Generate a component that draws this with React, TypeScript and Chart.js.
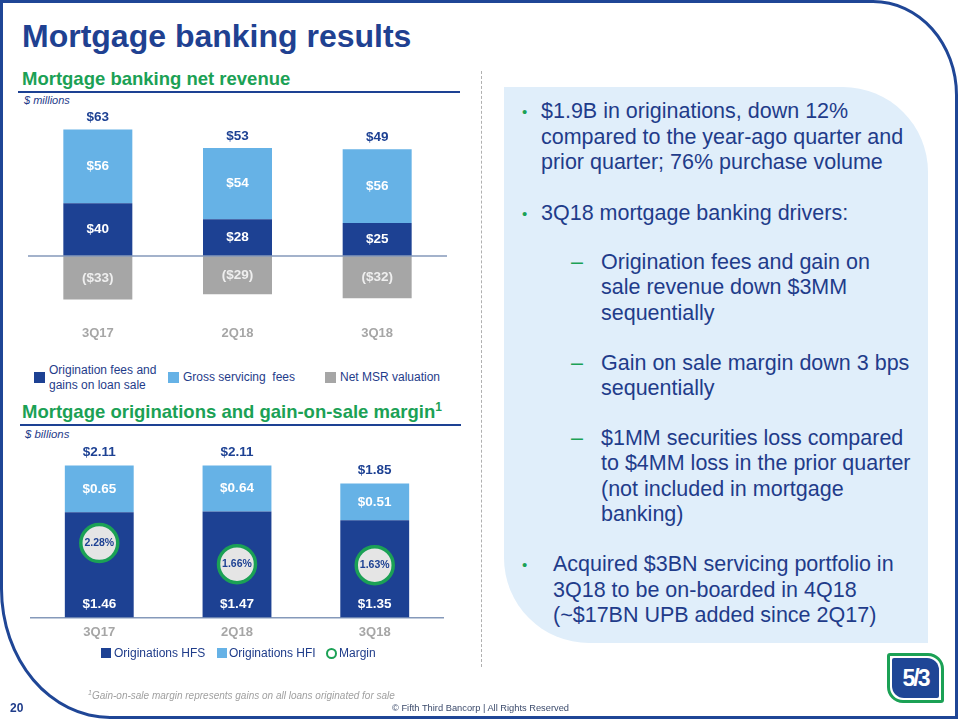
import React, { useEffect, useRef } from "react";
import { Chart, registerables } from "chart.js";

Chart.register(...registerables);

const FONT = "Arial, 'Liberation Sans', Helvetica, sans-serif";
const NAVY = "#1d4193";
const TEXT_NAVY = "#1f3c8a";
const LIGHT = "#66b2e6";
const GRAY = "#a6a6a6";
const GREEN = "#1ba155";

// ---- Mortgage banking net revenue ($ millions)
const revenueQuarters = ["3Q17", "2Q18", "3Q18"];
const originationFees = [40, 28, 25];
const grossServicing = [56, 54, 56];
const netMsrValuation = [-33, -29, -32];
const revenueTotals = [63, 53, 49];

// ---- Mortgage originations ($ billions) and gain-on-sale margin (%)
const origQuarters = ["3Q17", "2Q18", "3Q18"];
const originationsHFS = [1.46, 1.47, 1.35];
const originationsHFI = [0.65, 0.64, 0.51];
const originationTotals = [2.11, 2.11, 1.85];
const gainOnSaleMargin = [2.28, 1.66, 1.63];

const revenueLabelsPlugin = {
  id: "revenueLabels",
  afterDatasetsDraw(chart: any) {
    const ctx = chart.ctx;
    const area = chart.chartArea;
    ctx.save();
    const y0 = chart.scales.y.getPixelForValue(0);
    ctx.strokeStyle = "#8599ba";
    ctx.lineWidth = 1.5;
    ctx.beginPath();
    ctx.moveTo(area.left, y0);
    ctx.lineTo(area.right, y0);
    ctx.stroke();
    ctx.textAlign = "center";
    ctx.textBaseline = "middle";
    ctx.font = `bold 13.5px ${FONT}`;
    chart.data.datasets.forEach((ds: any, di: number) => {
      const meta = chart.getDatasetMeta(di);
      meta.data.forEach((el: any, i: number) => {
        const v = ds.data[i];
        const p = el.getProps(["x", "y", "base"], true);
        ctx.fillStyle = v < 0 ? "#efefef" : "#ffffff";
        ctx.fillText(v < 0 ? `($${-v})` : `$${v}`, p.x, (p.y + p.base) / 2);
      });
    });
    const topMeta = chart.getDatasetMeta(1);
    topMeta.data.forEach((el: any, i: number) => {
      const p = el.getProps(["x", "y"], true);
      ctx.fillStyle = NAVY;
      ctx.fillText(`$${revenueTotals[i]}`, p.x, p.y - 12);
    });
    ctx.restore();
  },
};

const origLabelsPlugin = {
  id: "origLabels",
  afterDatasetsDraw(chart: any) {
    const ctx = chart.ctx;
    ctx.save();
    ctx.textAlign = "center";
    ctx.textBaseline = "middle";
    ctx.font = `bold 13.5px ${FONT}`;
    const hfs = chart.getDatasetMeta(0);
    hfs.data.forEach((el: any, i: number) => {
      const p = el.getProps(["x", "y", "base"], true);
      ctx.fillStyle = "#ffffff";
      ctx.fillText(`$${originationsHFS[i].toFixed(2)}`, p.x, p.base - 13);
    });
    const hfi = chart.getDatasetMeta(1);
    hfi.data.forEach((el: any, i: number) => {
      const p = el.getProps(["x", "y", "base"], true);
      ctx.fillStyle = "#ffffff";
      ctx.fillText(`$${originationsHFI[i].toFixed(2)}`, p.x, (p.y + p.base) / 2);
      ctx.fillStyle = NAVY;
      ctx.fillText(`$${originationTotals[i].toFixed(2)}`, p.x, p.y - 13);
    });
    const mg = chart.getDatasetMeta(2);
    ctx.font = `bold 10.5px ${FONT}`;
    mg.data.forEach((el: any, i: number) => {
      const p = el.getProps(["x", "y"], true);
      ctx.fillStyle = NAVY;
      ctx.fillText(`${gainOnSaleMargin[i].toFixed(2)}%`, p.x, p.y);
    });
    ctx.restore();
  },
};

const abs = (s: React.CSSProperties): React.CSSProperties => ({ position: "absolute", ...s });

export default function App() {
  const topRef = useRef<HTMLCanvasElement>(null);
  const botRef = useRef<HTMLCanvasElement>(null);

  useEffect(() => {
    const tickFont = { family: FONT, size: 13, weight: "bold" as const };
    const c1 = new Chart(topRef.current as HTMLCanvasElement, {
      type: "bar",
      data: {
        labels: revenueQuarters,
        datasets: [
          { label: "Origination fees and gains on loan sale", data: originationFees, backgroundColor: NAVY, stack: "s" },
          { label: "Gross servicing fees", data: grossServicing, backgroundColor: LIGHT, stack: "s" },
          { label: "Net MSR valuation", data: netMsrValuation, backgroundColor: GRAY, stack: "s" },
        ],
      },
      options: {
        responsive: false,
        animation: false,
        layout: { autoPadding: false, padding: { top: 11, bottom: 1, left: 13, right: 18 } },
        plugins: { legend: { display: false }, tooltip: { enabled: false } },
        datasets: { bar: { categoryPercentage: 1, barPercentage: 0.494 } },
        scales: {
          x: {
            stacked: true,
            grid: { display: false, drawTicks: false },
            border: { display: false },
            ticks: { color: GRAY, font: tickFont, padding: 10 },
          },
          y: { stacked: true, display: false, min: -45, max: 110 },
        },
      },
      plugins: [revenueLabelsPlugin],
    } as any);

    const c2 = new Chart(botRef.current as HTMLCanvasElement, {
      type: "bar",
      data: {
        labels: origQuarters,
        datasets: [
          { label: "Originations HFS", data: originationsHFS, backgroundColor: NAVY, stack: "s", yAxisID: "y", order: 2 },
          { label: "Originations HFI", data: originationsHFI, backgroundColor: LIGHT, stack: "s", yAxisID: "y", order: 2 },
          {
            type: "line",
            label: "Margin",
            data: gainOnSaleMargin,
            yAxisID: "y2",
            showLine: false,
            pointRadius: 18.5,
            pointBackgroundColor: "#e5e5e5",
            pointBorderColor: GREEN,
            pointBorderWidth: 3.5,
            clip: false,
            order: 1,
          },
        ],
      },
      options: {
        responsive: false,
        animation: false,
        layout: { autoPadding: false, padding: { top: 8, bottom: 0, left: 15.4, right: 21.4 } },
        plugins: { legend: { display: false }, tooltip: { enabled: false } },
        datasets: { bar: { categoryPercentage: 1, barPercentage: 0.5 } },
        scales: {
          x: {
            stacked: true,
            grid: { display: false, drawTicks: false },
            border: { display: true, color: "#8599ba", width: 1.5 },
            ticks: { color: GRAY, font: tickFont, padding: 7 },
          },
          y: { stacked: true, display: false, min: 0, max: 2.7 },
          y2: { stacked: false, display: false, min: 0.1, max: 5.8 },
        },
      },
      plugins: [origLabelsPlugin],
    } as any);

    return () => {
      c1.destroy();
      c2.destroy();
    };
  }, []);

  const panelText: React.CSSProperties = {
    position: "absolute",
    fontFamily: FONT,
    fontSize: 21.5,
    lineHeight: "25.5px",
    color: TEXT_NAVY,
    whiteSpace: "nowrap",
  };
  const bullet = (top: number): React.CSSProperties => ({
    position: "absolute",
    left: 522,
    top,
    fontFamily: FONT,
    fontSize: 15,
    lineHeight: "25.5px",
    color: GREEN,
  });
  const dash = (top: number): React.CSSProperties => ({
    position: "absolute",
    left: 571,
    top,
    fontFamily: FONT,
    fontSize: 21.5,
    lineHeight: "25.5px",
    color: GREEN,
  });
  const legendText: React.CSSProperties = {
    position: "absolute",
    fontFamily: FONT,
    fontSize: 12,
    lineHeight: "15px",
    color: TEXT_NAVY,
    whiteSpace: "nowrap",
  };

  return (
    <div style={{ position: "relative", width: 960, height: 720, background: "#ffffff", overflow: "hidden", fontFamily: FONT }}>
      <style>{`body{margin:0;}`}</style>
      {/* frame */}
      <div
        style={abs({
          left: 0,
          top: 0,
          width: 958,
          height: 719,
          boxSizing: "border-box",
          border: "3.5px solid #1f4696",
          borderTopRightRadius: "85px 95px",
          borderBottomLeftRadius: "110px 130px",
        })}
      />
      {/* title */}
      <div style={abs({ left: 22, top: 20, fontSize: 32, lineHeight: "32px", fontWeight: "bold", color: "#1f4191", whiteSpace: "nowrap" })}>
        Mortgage banking results
      </div>

      {/* section 1 */}
      <div style={abs({ left: 22, top: 70.3, fontSize: 18.5, lineHeight: "18.5px", fontWeight: "bold", color: GREEN, whiteSpace: "nowrap" })}>
        Mortgage banking net revenue
      </div>
      <div style={abs({ left: 18, top: 91, width: 442, height: 2, background: NAVY })} />
      <div style={abs({ left: 24, top: 94.7, fontSize: 11, lineHeight: "11px", fontStyle: "italic", color: TEXT_NAVY })}>$ millions</div>
      <canvas ref={topRef} width={450} height={252} style={abs({ left: 15, top: 100, width: 450, height: 252 })} />

      {/* legend 1 */}
      <div style={abs({ left: 34, top: 372, width: 11, height: 11, background: NAVY })} />
      <div style={{ ...legendText, left: 49, top: 362.5 }}>
        Origination fees and
        <br />
        gains on loan sale
      </div>
      <div style={abs({ left: 168, top: 372, width: 11, height: 11, background: LIGHT })} />
      <div style={{ ...legendText, left: 183, top: 369.5 }}>Gross servicing&nbsp; fees</div>
      <div style={abs({ left: 325, top: 372, width: 11, height: 11, background: GRAY })} />
      <div style={{ ...legendText, left: 340, top: 369.5 }}>Net MSR valuation</div>

      {/* section 2 */}
      <div style={abs({ left: 22, top: 402.6, fontSize: 18.5, lineHeight: "18.5px", fontWeight: "bold", color: GREEN, whiteSpace: "nowrap" })}>
        Mortgage originations and gain-on-sale margin<sup style={{ fontSize: 12, lineHeight: 0, verticalAlign: "7px" }}>1</sup>
      </div>
      <div style={abs({ left: 20, top: 424, width: 441, height: 2, background: NAVY })} />
      <div style={abs({ left: 25, top: 428.7, fontSize: 11.4, lineHeight: "11.4px", fontStyle: "italic", color: TEXT_NAVY })}>$ billions</div>
      <canvas ref={botRef} width={450} height={232} style={abs({ left: 15, top: 415, width: 450, height: 232 })} />

      {/* legend 2 */}
      <div style={abs({ left: 101, top: 648, width: 10, height: 10, background: NAVY })} />
      <div style={{ ...legendText, left: 114, top: 645.5 }}>Originations HFS</div>
      <div style={abs({ left: 217, top: 648, width: 10, height: 10, background: LIGHT })} />
      <div style={{ ...legendText, left: 229, top: 645.5 }}>Originations HFI</div>
      <div
        style={abs({
          left: 326,
          top: 647.5,
          width: 11,
          height: 11,
          boxSizing: "border-box",
          borderRadius: "50%",
          border: `2px solid ${GREEN}`,
          background: "#ffffff",
        })}
      />
      <div style={{ ...legendText, left: 339, top: 645.5 }}>Margin</div>

      {/* separator */}
      <div style={abs({ left: 481, top: 71, width: 0, height: 596, borderLeft: "1px dashed #b0b0b0" })} />

      {/* right panel */}
      <div
        style={abs({
          left: 504,
          top: 87,
          width: 424,
          height: 556,
          background: "#e0eefa",
          borderTopRightRadius: 85,
          borderBottomLeftRadius: 85,
        })}
      />
      <span style={bullet(99)}>•</span>
      <div style={{ ...panelText, left: 541, top: 99 }}>
        $1.9B in originations, down 12%
        <br />
        compared to the year-ago quarter and
        <br />
        prior quarter; 76% purchase volume
      </div>
      <span style={bullet(200.5)}>•</span>
      <div style={{ ...panelText, left: 541, top: 200.5 }}>3Q18 mortgage banking drivers:</div>
      <span style={dash(249.5)}>–</span>
      <div style={{ ...panelText, left: 601, top: 249.5 }}>
        Origination fees and gain on
        <br />
        sale revenue down $3MM
        <br />
        sequentially
      </div>
      <span style={dash(350.5)}>–</span>
      <div style={{ ...panelText, left: 601, top: 350.5 }}>
        Gain on sale margin down 3 bps
        <br />
        sequentially
      </div>
      <span style={dash(425.5)}>–</span>
      <div style={{ ...panelText, left: 601, top: 425.5 }}>
        $1MM securities loss compared
        <br />
        to $4MM loss in the prior quarter
        <br />
        (not included in mortgage
        <br />
        banking)
      </div>
      <span style={bullet(552)}>•</span>
      <div style={{ ...panelText, left: 553, top: 552 }}>
        Acquired $3BN servicing portfolio in
        <br />
        3Q18 to be on-boarded in 4Q18
        <br />
        (~$17BN UPB added since 2Q17)
      </div>

      {/* logo */}
      <div
        style={abs({
          left: 887,
          top: 653,
          width: 57,
          height: 50,
          boxSizing: "border-box",
          border: `3px solid ${GREEN}`,
          borderRadius: "3px 16px 3px 16px",
          background: "#ffffff",
          padding: 2,
        })}
      >
        <div
          style={{
            width: "100%",
            height: "100%",
            borderRadius: "2px 12px 2px 12px",
            background: "#1f4696",
            color: "#ffffff",
            fontWeight: "bold",
            fontSize: 23,
            lineHeight: "40px",
            textAlign: "center",
            letterSpacing: -2,
          }}
        >
          5/3
        </div>
      </div>

      {/* footer */}
      <div style={abs({ left: 88, top: 690, fontSize: 10, lineHeight: "12px", fontStyle: "italic", color: "#a0a0a0", whiteSpace: "nowrap" })}>
        <sup style={{ fontSize: 7, lineHeight: 0 }}>1</sup>Gain-on-sale margin represents gains on all loans originated for sale
      </div>
      <div style={abs({ left: 10, top: 702, fontSize: 12, lineHeight: "12px", fontWeight: "bold", color: TEXT_NAVY })}>20</div>
      <div style={abs({ left: 392, top: 703, fontSize: 9.3, lineHeight: "11px", color: "#3b4a6b", whiteSpace: "nowrap" })}>
        © Fifth Third Bancorp | All Rights Reserved
      </div>
    </div>
  );
}
